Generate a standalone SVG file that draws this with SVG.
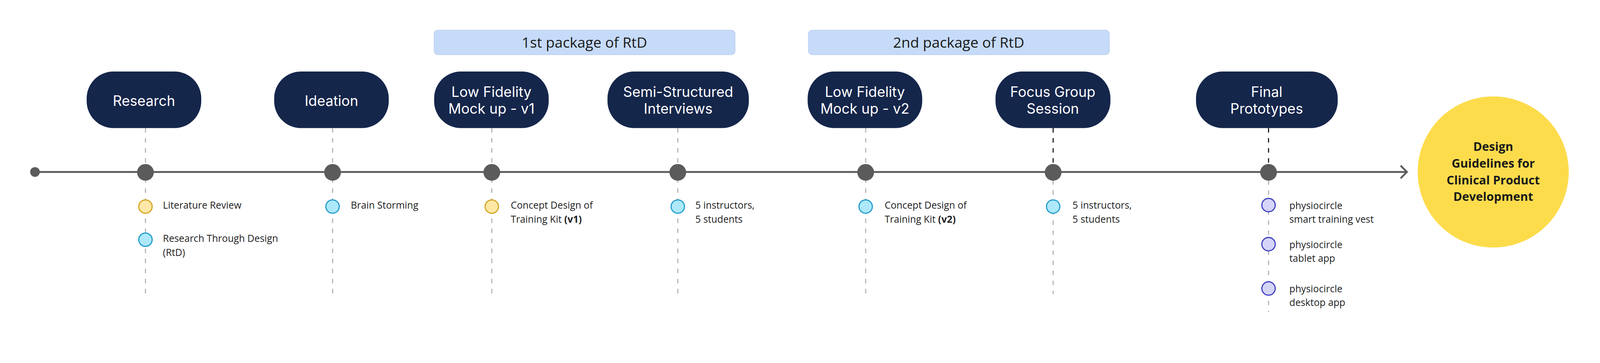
<svg xmlns="http://www.w3.org/2000/svg" width="4301" height="929" viewBox="0 0 4301 929" style="max-width:100%;height:auto">
<style>
.pill{fill:#15264B}
.pt{font-family:Inter,"Liberation Sans",sans-serif;font-size:38px;fill:#ffffff;text-anchor:middle}
.pkg{fill:#C6DBF9;stroke:#B8CCEC;stroke-width:1.5}
.pkt{font-family:"Open Sans","Noto Sans",sans-serif;font-size:39px;fill:#1A1A1A;text-anchor:middle}
.dash{stroke:#B3B3B3;stroke-width:3;stroke-dasharray:12 15;fill:none}
.dashd{stroke:#1A1A1A;stroke-width:3;stroke-dasharray:12 15;fill:none}
.dot{fill:#5B5B5B}
.st{font-family:"Open Sans","Noto Sans",sans-serif;font-size:26px;fill:#1F1F1F}
.cy{fill:#FFE8A6;stroke:#D2A21E;stroke-width:3}
.cb{fill:#AEE8FB;stroke:#1E9BCB;stroke-width:3}
.cp{fill:#D5D5F8;stroke:#3C3CBF;stroke-width:3}
.gt{font-family:"Open Sans","Noto Sans",sans-serif;font-size:32px;font-weight:bold;fill:#1A1A1A;text-anchor:middle}
</style>
<rect width="4301" height="929" fill="#ffffff"/>

<g id="connectors">
  <line x1="94" y1="462" x2="3782" y2="462" stroke="#5B5B5B" stroke-width="5"/>
  <polyline points="3765,445 3782,462 3765,479" fill="none" stroke="#5B5B5B" stroke-width="5"/>
  <line class="dash" x1="391" y1="344" x2="391" y2="790"/>
  <line class="dash" x1="894" y1="344" x2="894" y2="790"/>
  <line class="dash" x1="1322" y1="344" x2="1322" y2="790"/>
  <line class="dash" x1="1822" y1="344" x2="1822" y2="790"/>
  <line class="dash" x1="2327" y1="344" x2="2327" y2="790"/>
  <line class="dashd" x1="2831" y1="344" x2="2831" y2="440"/>
  <line class="dash" x1="2831" y1="484" x2="2831" y2="790"/>
  <line class="dashd" x1="3410" y1="344" x2="3410" y2="440"/>
  <line class="dash" x1="3410" y1="484" x2="3410" y2="838"/>
</g>

<g id="start"><circle class="dot" cx="94" cy="462" r="13"/></g>

<g id="pkg1">
  <rect class="pkg" x="1167" y="81" width="809" height="66" rx="10"/>
  <text class="pkt" x="1571" y="128">1st package of RtD</text>
</g>
<g id="pkg2">
  <rect class="pkg" x="2173" y="81" width="809" height="66" rx="10"/>
  <text class="pkt" x="2577" y="128">2nd package of RtD</text>
</g>

<g id="research">
  <rect class="pill" x="233" y="192" width="308" height="152" rx="72"/>
  <text class="pt" x="387" y="284">Research</text>
  <circle class="dot" cx="391" cy="463" r="22.5"/>
  <circle class="cy" cx="391" cy="555" r="18"/>
  <text class="st" x="438" y="561">Literature Review</text>
  <circle class="cb" cx="391" cy="644" r="18"/>
  <text class="st" x="438" y="650">Research Through Design</text>
  <text class="st" x="438" y="688">(RtD)</text>
</g>

<g id="ideation">
  <rect class="pill" x="737" y="192" width="308" height="152" rx="72"/>
  <text class="pt" x="891" y="284">Ideation</text>
  <circle class="dot" cx="894" cy="463" r="22.5"/>
  <circle class="cb" cx="894" cy="555" r="18"/>
  <text class="st" x="943" y="561">Brain Storming</text>
</g>

<g id="lowfi1">
  <rect class="pill" x="1167" y="192" width="308" height="152" rx="72"/>
  <text class="pt" x="1321" y="260">Low Fidelity</text>
  <text class="pt" x="1321" y="306">Mock up - v1</text>
  <circle class="dot" cx="1322" cy="463" r="22.5"/>
  <circle class="cy" cx="1322" cy="555" r="18"/>
  <text class="st" x="1373" y="561">Concept Design of</text>
  <text class="st" x="1373" y="598">Training Kit <tspan font-weight="bold">(v1)</tspan></text>
</g>

<g id="semi">
  <rect class="pill" x="1633" y="192" width="380" height="152" rx="72"/>
  <text class="pt" x="1823" y="260">Semi-Structured</text>
  <text class="pt" x="1823" y="306">Interviews</text>
  <circle class="dot" cx="1822" cy="463" r="22.5"/>
  <circle class="cb" cx="1822" cy="555" r="18"/>
  <text class="st" x="1869" y="561">5 instructors,</text>
  <text class="st" x="1869" y="598">5 students</text>
</g>

<g id="lowfi2">
  <rect class="pill" x="2171" y="192" width="308" height="152" rx="72"/>
  <text class="pt" x="2325" y="260">Low Fidelity</text>
  <text class="pt" x="2325" y="306">Mock up - v2</text>
  <circle class="dot" cx="2327" cy="463" r="22.5"/>
  <circle class="cb" cx="2327" cy="555" r="18"/>
  <text class="st" x="2378" y="561">Concept Design of</text>
  <text class="st" x="2378" y="598">Training Kit <tspan font-weight="bold">(v2)</tspan></text>
</g>

<g id="focus">
  <rect class="pill" x="2676" y="192" width="309" height="152" rx="72"/>
  <text class="pt" x="2830" y="260">Focus Group</text>
  <text class="pt" x="2830" y="306">Session</text>
  <circle class="dot" cx="2831" cy="463" r="22.5"/>
  <circle class="cb" cx="2831" cy="555" r="18"/>
  <text class="st" x="2883" y="561">5 instructors,</text>
  <text class="st" x="2883" y="598">5 students</text>
</g>

<g id="final">
  <rect class="pill" x="3215" y="192" width="381" height="152" rx="72"/>
  <text class="pt" x="3405" y="260">Final</text>
  <text class="pt" x="3405" y="306">Prototypes</text>
  <circle class="dot" cx="3410" cy="463" r="22.5"/>
  <circle class="cp" cx="3410" cy="551" r="18"/>
  <text class="st" x="3466" y="562">physiocircle</text>
  <text class="st" x="3466" y="598">smart training vest</text>
  <circle class="cp" cx="3410" cy="656" r="18"/>
  <text class="st" x="3466" y="667">physiocircle</text>
  <text class="st" x="3466" y="703">tablet app</text>
  <circle class="cp" cx="3410" cy="775" r="18"/>
  <text class="st" x="3466" y="785">physiocircle</text>
  <text class="st" x="3466" y="822">desktop app</text>
</g>

<g id="guidelines">
  <circle cx="4014" cy="462" r="203" fill="#FDDC4C"/>
  <text class="gt" x="4014" y="405">Design</text>
  <text class="gt" x="4014" y="450">Guidelines for</text>
  <text class="gt" x="4014" y="495">Clinical Product</text>
  <text class="gt" x="4014" y="540">Development</text>
</g>
</svg>
